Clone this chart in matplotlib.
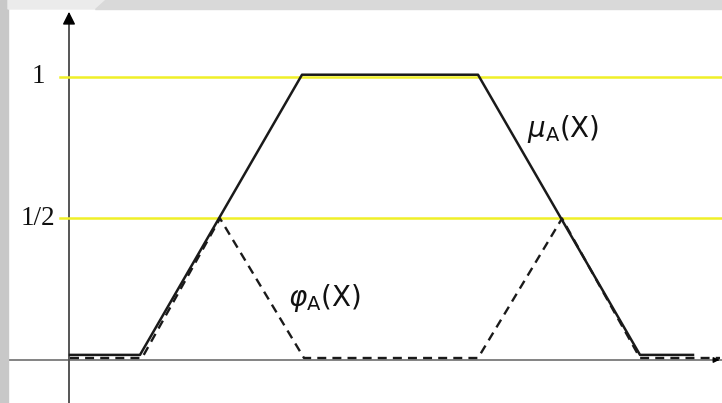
import numpy as np
import matplotlib.pyplot as plt
from matplotlib.patches import Polygon, Rectangle

# Membership function mu_A(x): trapezoid with small shoulders
mu_x = [1, 71, 233, 409, 571, 624]
mu_y = [0.018, 0.018, 1.008, 1.008, 0.018, 0.018]

# phi_A(x): the two triangular cuts at the 1/2 level
phi_x = [1, 73, 151, 235, 409, 493, 571, 651]
phi_y = [0.007, 0.007, 0.5, 0.007, 0.007, 0.5, 0.007, 0.007]

levels = [1.0, 0.5]
level_labels = ["1", "1/2"]

fig = plt.figure(figsize=(7.22, 4.03), dpi=100)
ax = fig.add_axes([0, 0, 1, 1])
ax.set_xlim(-69, 653)
ax.set_ylim(-0.152, 1.272)
ax.axis("off")

# grey frame strips along the top and left edge
fig.patches.append(Rectangle((0, 0), 8 / 722, 1, transform=fig.transFigure,
                             color="#c8c8c8", zorder=0))
fig.patches.append(Polygon([(8 / 722, 1), (8 / 722, 1 - 9 / 403),
                            (95 / 722, 1 - 9 / 403), (105 / 722, 1)],
                           transform=fig.transFigure, color="#ebebeb", zorder=0))
fig.patches.append(Polygon([(95 / 722, 1 - 9 / 403), (1, 1 - 9 / 403),
                            (1, 1), (105 / 722, 1)],
                           transform=fig.transFigure, color="#d9d9d9", zorder=0))

# axes with arrows
ax.plot([-61, 653], [0, 0], color="#7a7a7a", lw=1.3, zorder=1)
ax.plot([0, 0], [-0.152, 1.22], color="#555555", lw=1.4, zorder=1)
ax.annotate("", xy=(0, 1.24), xytext=(0, 1.18),
            arrowprops=dict(arrowstyle="-|>", color="black", lw=1,
                            mutation_scale=19), zorder=3)
ax.annotate("", xy=(653, 0), xytext=(645, 0),
            arrowprops=dict(arrowstyle="-|>", color="black", lw=1,
                            mutation_scale=8), zorder=3)

# yellow reference levels
for lev, lab in zip(levels, level_labels):
    ax.plot([-9, 653], [lev, lev], color="#f0f028", lw=1.8, zorder=1)
    ax.text(-31, lev, lab, ha="center", va="center", fontsize=19.5,
            family="Liberation Serif", color="#111111")

ax.plot(mu_x, mu_y, color="#1a1a1a", lw=1.8, zorder=2)
ax.plot(phi_x, phi_y, color="#1a1a1a", lw=1.7, dashes=(3.8, 2.6), zorder=2)

ax.text(494, 0.817, r"$\mu_{\rm A}$(X)", ha="center", va="center",
        fontsize=20, color="#111111")
ax.text(255, 0.219, r"$\varphi_{\rm A}$(X)", ha="center", va="center",
        fontsize=20, color="#111111")

plt.savefig("out.png", dpi=100)
